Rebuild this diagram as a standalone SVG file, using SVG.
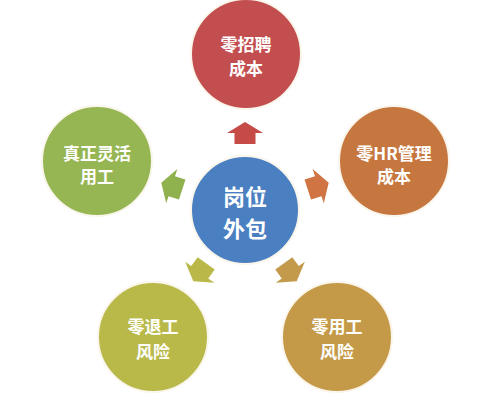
<svg xmlns="http://www.w3.org/2000/svg" width="500" height="400" viewBox="0 0 500 400">
<defs>
<style>
.c{stroke:#fbf6ec;stroke-width:2}
.t{fill:#ffffff;font-family:"Noto Sans CJK SC","Noto Sans CJK JP",sans-serif;font-weight:bold;font-size:17px;text-anchor:middle;dominant-baseline:central}
.tc{font-size:22px}
</style>
<path id="arr" d="M0,-88 L18,-77 L10.5,-77 L10.5,-66 L-10.5,-66 L-10.5,-77 L-18,-77 Z"/>
</defs>
<rect width="500" height="400" fill="#ffffff"/>
<g id="connectors">
<use href="#arr" transform="translate(245,210)" fill="#c64a45"/>
<use href="#arr" transform="translate(245,210) rotate(72)" fill="#cf7442"/>
<use href="#arr" transform="translate(245,210) rotate(144)" fill="#c39a4c"/>
<use href="#arr" transform="translate(245,210) rotate(216)" fill="#b9b848"/>
<use href="#arr" transform="translate(245,210) rotate(288)" fill="#8fb24e"/>
</g>
<g id="node-center">
<circle class="c" cx="245" cy="210" r="54" fill="#4a7fc1"/>
<text class="t tc" x="245" y="195">岗位</text>
<text class="t tc" x="245" y="227">外包</text>
</g>
<g id="node-top">
<circle class="c" cx="246" cy="54" r="55" fill="#c24e4f"/>
<text class="t" x="246" y="43">零招聘</text>
<text class="t" x="246" y="67">成本</text>
</g>
<g id="node-right">
<circle class="c" cx="394" cy="161" r="55" fill="#c6773f"/>
<text class="t" x="394" y="152">零HR管理</text>
<text class="t" x="394" y="175">成本</text>
</g>
<g id="node-bottom-right">
<circle class="c" cx="337" cy="337" r="55" fill="#c49a48"/>
<text class="t" x="337" y="325">零用工</text>
<text class="t" x="337" y="350">风险</text>
</g>
<g id="node-bottom-left">
<circle class="c" cx="153" cy="337" r="55" fill="#b9b94a"/>
<text class="t" x="153" y="325">零退工</text>
<text class="t" x="153" y="350">风险</text>
</g>
<g id="node-left">
<circle class="c" cx="97" cy="161" r="55" fill="#96b653"/>
<text class="t" x="97" y="152">真正灵活</text>
<text class="t" x="97" y="175">用工</text>
</g>
</svg>
